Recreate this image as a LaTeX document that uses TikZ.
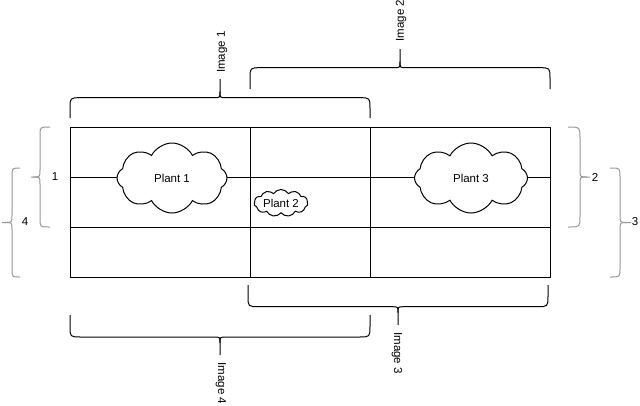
\documentclass[tikz,border=0pt]{standalone}
\usepackage{fontspec}
\setmainfont{Liberation Sans}
\usetikzlibrary{shapes.symbols}

\definecolor{bracegray}{RGB}{150,150,150}

\tikzset{
  plant/.style={cloud, cloud puffs=8, cloud puff arc=125, cloud ignores aspect,
    draw, fill=white, inner sep=0pt, font=\fontsize{11.5}{13}\selectfont},
  lbl/.style={inner sep=0pt, font=\fontsize{11.5}{13}\selectfont},
  % length / depth to spine / tip / end radius / tip radius
  pics/curly/.style args={#1/#2/#3/#4/#5}{code={
    \draw (0,0) -- (0,-#2+#4) .. controls (0,-#2) .. (#4,-#2) -- (#1/2-#5,-#2)
      .. controls (#1/2,-#2) .. (#1/2,-#2-#5) -- (#1/2,-#2-#3);
    \draw (#1,0) -- (#1,-#2+#4) .. controls (#1,-#2) .. (#1-#4,-#2) -- (#1/2+#5,-#2)
      .. controls (#1/2,-#2) .. (#1/2,-#2-#5);
  }}
}

\begin{document}
\begin{tikzpicture}[x=1pt, y=-1pt, line width=1pt]
    \useasboundingbox (0,0) rectangle (640,405);

%Field grid

    \draw (70,127) rectangle (550,277);
    \foreach \gx in {250,370}
        \draw (\gx,127) -- (\gx,277);
    \foreach \gy in {177,227}
        \draw (70,\gy) -- (550,\gy);

%Plants

    \node[plant, minimum width=110, minimum height=70] (plant1) at (172,178) {Plant 1};
    \node[plant, minimum width=54, minimum height=27, cloud puffs=11, cloud puff arc=115] (plant2) at (281,203) {Plant 2};
    \node[plant, minimum width=113, minimum height=70] (plant3) at (471,178) {Plant 3};

%Image braces

    \pic at (70,118) {curly=300/20.3/18.7/11/6};
    \pic at (250,89) {curly=300/21.3/18.7/11/6};
    \pic[rotate=180] at (548,285) {curly=300/21.7/18.3/11/6};
    \pic[rotate=180] at (370,315) {curly=300/22/18/11/6};

    \node[lbl, rotate=90] (img1) at (222,52) {Image 1};
    \node[lbl, rotate=90] (img2) at (401,20.5) {Image 2};
    \node[lbl, rotate=-90] (img3) at (397,353) {Image 3};
    \node[lbl, rotate=-90] (img4) at (221,383.5) {Image 4};

%Row braces

    \begin{scope}[bracegray]
    \pic[rotate=90] at (50,227) {curly=100/10/9/9/7};
    \pic[rotate=90] at (20,277) {curly=109/8/10/8/7};
    \pic[rotate=-90] at (568,127) {curly=100/12/10/11/7};
    \pic[rotate=-90] at (610,168) {curly=109/10/11/9/7};
    \end{scope}

    \node[lbl] (row1) at (55,177) {1};
    \node[lbl] (row4) at (25,222) {4};
    \node[lbl] (row2) at (595,177) {2};
    \node[lbl] (row3) at (635,222) {3};

\end{tikzpicture}
\end{document}
